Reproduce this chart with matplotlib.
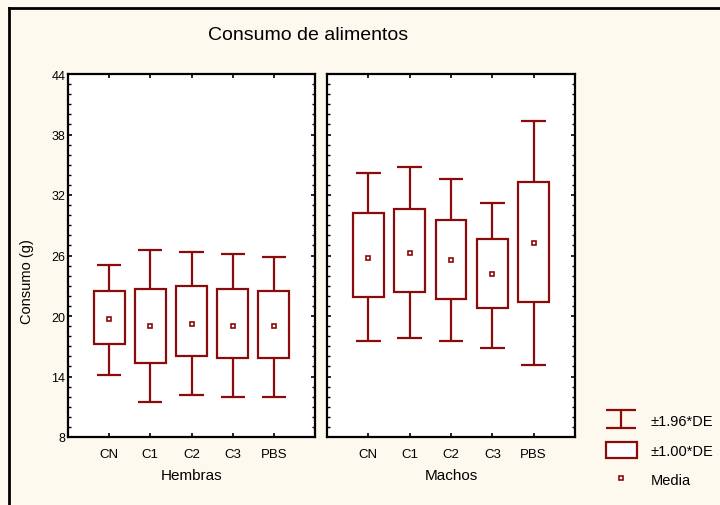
import matplotlib
matplotlib.use("Agg")
import matplotlib.pyplot as plt
from matplotlib.lines import Line2D
from matplotlib.patches import Patch
from matplotlib.path import Path
from matplotlib.ticker import MultipleLocator

plt.rcParams['font.family'] = ['Liberation Sans', 'DejaVu Sans']

categories = ["CN", "C1", "C2", "C3", "PBS"]
groups = ["Hembras", "Machos"]

# Hembras
h_mean = [19.7, 19.0, 19.25, 19.0, 19.0]
h_box_lo = [17.2, 15.35, 16.05, 15.8, 15.8]
h_box_hi = [22.5, 22.7, 22.95, 22.7, 22.5]
h_wh_lo = [14.1, 11.45, 12.2, 12.0, 11.95]
h_wh_hi = [25.05, 26.5, 26.35, 26.15, 25.85]

# Machos
m_mean = [25.8, 26.25, 25.55, 24.2, 27.2]
m_box_lo = [21.85, 22.35, 21.65, 20.75, 21.4]
m_box_hi = [30.2, 30.65, 29.5, 27.6, 33.25]
m_wh_lo = [17.55, 17.8, 17.5, 16.85, 15.1]
m_wh_hi = [34.2, 34.75, 33.6, 31.25, 39.3]

yticks = [8, 14, 20, 26, 32, 38, 44]

red = "#8b0a0a"
bg = "#fdf9ef"

fig = plt.figure(figsize=(7.2, 5.06), dpi=100, facecolor=bg)

W, H = 720.0, 506.0
def ax_rect(x0, x1, y0, y1):
    return [x0 / W, 1 - y1 / H, (x1 - x0) / W, (y1 - y0) / H]

axL = fig.add_axes(ax_rect(68, 315, 75, 438))
axR = fig.add_axes(ax_rect(327, 575, 75, 438))

data = [
    (axL, h_mean, h_box_lo, h_box_hi, h_wh_lo, h_wh_hi, groups[0]),
    (axR, m_mean, m_box_lo, m_box_hi, m_wh_lo, m_wh_hi, groups[1]),
]

xs = list(range(1, len(categories) + 1))
box_w = 0.745
cap_w = 0.59

for ax, mean, blo, bhi, wlo, whi, grp in data:
    ax.set_facecolor("white")
    heights = [h - l for h, l in zip(bhi, blo)]
    ax.bar(xs, heights, bottom=blo, width=box_w, facecolor="white",
           edgecolor=red, linewidth=1.6, zorder=3)
    ax.vlines(xs, bhi, whi, color=red, linewidth=1.6, zorder=2)
    ax.vlines(xs, wlo, blo, color=red, linewidth=1.6, zorder=2)
    ax.hlines(whi, [x - cap_w / 2 for x in xs], [x + cap_w / 2 for x in xs],
              color=red, linewidth=1.6, zorder=2)
    ax.hlines(wlo, [x - cap_w / 2 for x in xs], [x + cap_w / 2 for x in xs],
              color=red, linewidth=1.6, zorder=2)
    ax.plot(xs, mean, linestyle="none", marker="s", markersize=3.2,
            markerfacecolor="white", markeredgecolor=red, markeredgewidth=1.2,
            zorder=4)
    ax.set_xlim(0, 6)
    ax.set_ylim(8, 44)
    ax.set_xticks(xs)
    ax.set_xticklabels(categories, fontsize=9.5)
    ax.set_yticks(yticks)
    ax.yaxis.set_minor_locator(MultipleLocator(1))
    ax.tick_params(axis="both", which="major", direction="in", length=3,
                   width=1.2, top=True, right=True)
    ax.tick_params(axis="x", which="major", pad=8)
    ax.tick_params(axis="y", which="minor", direction="in", length=2,
                   width=1.0, left=True, right=True)
    ax.set_xlabel(grp, fontsize=11, labelpad=6)
    for s in ax.spines.values():
        s.set_linewidth(1.6)
        s.set_color("black")

axL.set_yticklabels([str(t) for t in yticks], fontsize=9)
axL.tick_params(axis="y", which="major", pad=2)
axL.set_ylabel("Consumo (g)", fontsize=10.5)
axL.yaxis.set_label_coords(-0.138, 0.43)
axR.tick_params(axis="y", labelleft=False)

fig.text(308 / W, 1 - 35 / H, "Consumo de alimentos", fontsize=14,
         ha="center", va="center")

# frame lines (top and left)
fig.add_artist(Line2D([9 / W, 1.0], [1 - 9 / H, 1 - 9 / H],
                      transform=fig.transFigure, color="black", linewidth=2))
fig.add_artist(Line2D([9 / W, 9 / W], [0, 1 - 9 / H],
                      transform=fig.transFigure, color="black", linewidth=2))

# legend
ibeam = Path([(-1, 0.6), (1, 0.6), (0, 0.6), (0, -0.6), (-1, -0.6), (1, -0.6)],
             [Path.MOVETO, Path.LINETO, Path.MOVETO, Path.LINETO,
              Path.MOVETO, Path.LINETO])
h1 = Line2D([], [], linestyle="none", marker=ibeam, markersize=22,
            markerfacecolor="none", markeredgecolor=red, markeredgewidth=1.6)
h2 = Patch(facecolor="white", edgecolor=red, linewidth=1.6)
h3 = Line2D([], [], linestyle="none", marker="s", markersize=3.2,
            markerfacecolor="white", markeredgecolor=red, markeredgewidth=1.2)
leg = fig.legend([h1, h2, h3], ["±1.96*DE", "±1.00*DE", "Media"],
                 loc="upper left", bbox_to_anchor=(593 / W, 1 - 400 / H),
                 frameon=False, fontsize=10.5, handlelength=2.1,
                 handleheight=1.3, labelspacing=0.95, handletextpad=0.95)

fig.savefig("out.png", dpi=100, facecolor=bg)
